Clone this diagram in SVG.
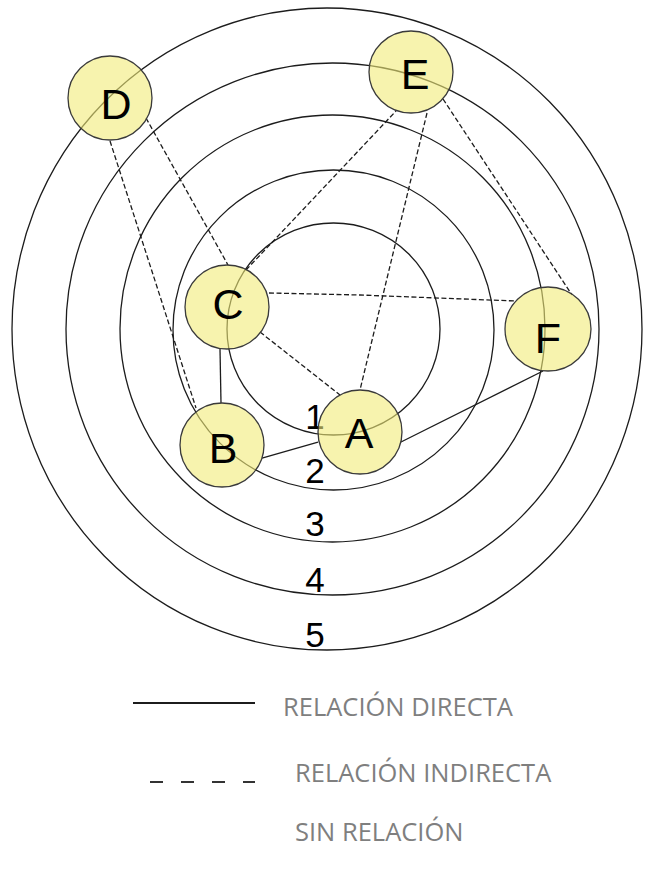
<svg xmlns="http://www.w3.org/2000/svg" width="647" height="870" viewBox="0 0 647 870">
<style>
.ring{fill:none;stroke:#1c1c1c;stroke-width:1.3}
.solid{fill:none;stroke:#1c1c1c;stroke-width:1.3}
.dash{fill:none;stroke:#1c1c1c;stroke-width:1.3;stroke-dasharray:5 2.5}
.node ellipse{fill:#f2eb78;fill-opacity:0.6;stroke:#3a3a3a;stroke-width:1.3}
.node text{font-family:"Liberation Sans",Arial,sans-serif;font-size:43px;fill:#000;text-anchor:middle}
.num{font-family:"Liberation Sans",Arial,sans-serif;font-size:35px;fill:#000;text-anchor:middle}
.leg{font-family:"Open Sans","Liberation Sans",sans-serif;font-size:25.5px;fill:#7f7f7f}
</style>
<rect width="647" height="870" fill="#fff"/>
<g id="rings">
<ellipse class="ring" cx="333.5" cy="329" rx="106.5" ry="106"/>
<ellipse class="ring" cx="333.5" cy="330" rx="160.5" ry="160"/>
<ellipse class="ring" cx="332.5" cy="328.5" rx="212.5" ry="213.5"/>
<ellipse class="ring" cx="332.5" cy="329" rx="266.5" ry="266"/>
<ellipse class="ring" cx="327" cy="329" rx="315" ry="321"/>
</g>
<g id="ring-labels">
<text class="num" x="315" y="429">1</text>
<text class="num" x="315" y="483">2</text>
<text class="num" x="315" y="536">3</text>
<text class="num" x="315" y="592">4</text>
<text class="num" x="315" y="647">5</text>
</g>
<g id="connectors">
<line class="solid" x1="220" y1="349" x2="221" y2="403"/>
<line class="solid" x1="262" y1="458" x2="318" y2="442"/>
<line class="solid" x1="401" y1="442" x2="543" y2="371"/>
<line class="dash" x1="146" y1="118" x2="228" y2="265"/>
<line class="dash" x1="110" y1="141" x2="196" y2="408"/>
<line class="dash" x1="246" y1="270" x2="396" y2="111"/>
<line class="dash" x1="427" y1="113" x2="360" y2="390"/>
<line class="dash" x1="443" y1="99" x2="572" y2="295"/>
<polyline class="dash" points="269,293 360,295 515,301"/>
<line class="dash" x1="260" y1="332" x2="340" y2="395"/>
</g>
<g id="node-D" class="node"><ellipse cx="110" cy="98" rx="42" ry="42"/><text x="116" y="119">D</text></g>
<g id="node-E" class="node"><ellipse cx="411" cy="72" rx="42" ry="41"/><text x="415" y="89">E</text></g>
<g id="node-C" class="node"><ellipse cx="227" cy="307" rx="42" ry="42"/><text x="228" y="319">C</text></g>
<g id="node-F" class="node"><ellipse cx="548" cy="329" rx="43" ry="42"/><text x="548" y="353">F</text></g>
<g id="node-A" class="node"><ellipse cx="360" cy="432" rx="42" ry="42"/><text x="359" y="448">A</text></g>
<g id="node-B" class="node"><ellipse cx="222" cy="445" rx="42" ry="42"/><text x="223" y="463">B</text></g>
<g id="legend">
<line x1="133" y1="703" x2="255" y2="703" stroke="#1c1c1c" stroke-width="2"/>
<text class="leg" x="283" y="716">RELACIÓN DIRECTA</text>
<line x1="150" y1="782" x2="255" y2="782" stroke="#333" stroke-width="2" stroke-dasharray="13 18"/>
<text class="leg" x="295" y="782">RELACIÓN INDIRECTA</text>
<text class="leg" x="295" y="841">SIN RELACIÓN</text>
</g>
</svg>
